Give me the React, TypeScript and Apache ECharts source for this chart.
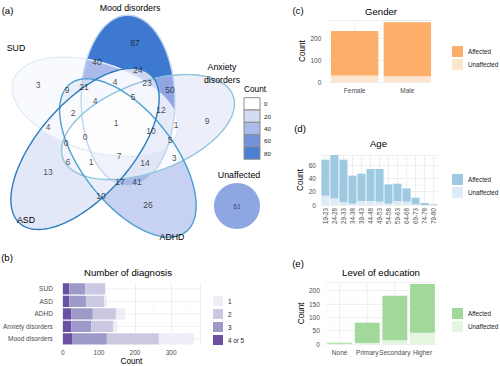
import React, { useEffect, useRef } from 'react';
import * as echarts from 'echarts';

const FONT = 'Liberation Sans, Arial, Helvetica, sans-serif';

// ---------- (a) Venn diagram data ----------
// set keys: M = Mood disorders, X = Anxiety disorders, H = ADHD, A = ASD, S = SUD
const vennSetKeys = ['M', 'X', 'H', 'A', 'S'];
const vennSetNames = ['Mood disorders', 'Anxiety disorders', 'ADHD', 'ASD', 'SUD'];
const vennRegionSets = [
  'S', 'M', 'X', 'A', 'H', 'MS', 'MX', 'MA', 'MXA', 'SH',
  'SMH', 'MSA', 'SMHA', 'MXAS', 'XMS', 'SAH', 'MXHAS', 'AS', 'ASX', 'SXHA',
  'SMXH', 'XS', 'XHS', 'AX', 'AHX', 'MXHA', 'HXM', 'XH', 'HAM', 'HM', 'HA',
];
const vennCounts = [3, 87, 9, 13, 26, 40, 50, 24, 23, 9, 21, 4, 4, 5, 12, 2, 1, 4, 0, 0, 10, 1, 5, 6, 1, 7, 14, 3, 17, 41, 10];
// label anchor of each region (layout only)
const vennLabelXY = [
  [38, 85], [135, 43], [207, 121], [48, 172], [148, 205], [97, 62], [170, 90], [138, 70], [147, 83], [67, 90],
  [84, 87], [115, 82], [95, 101], [133, 97], [161, 110], [73, 113], [116, 123], [48, 127], [66, 143], [85, 137],
  [151, 131], [176, 125], [170, 140], [68, 162], [91, 162], [119, 156], [145, 163], [174, 158], [120, 182], [137, 182], [101, 196],
];
const unaffectedCount = 61;
const countBreaks = [0, 20, 40, 60, 80];

// ---------- (b) Number of diagnosis ----------
const diagCats = ['SUD', 'ASD', 'ADHD', 'Anxiety disorders', 'Mood disorders'];
const diag45 = [18, 18, 23, 23, 27];
const diag3 = [44, 46, 60, 56, 95];
const diag2 = [55, 50, 64, 60, 144];
const diag1 = [2, 8, 25, 12, 98];

// ---------- (c) Gender ----------
const genderCats = ['Female', 'Male'];
const genderUnaffected = [30, 27];
const genderAffected = [205, 248];

// ---------- (d) Age ----------
const ageCats = ['19-23', '24-28', '29-33', '34-38', '39-43', '44-48', '49-53', '54-58', '59-63', '64-68', '69-73', '74-78', '79-80'];
const ageUnaffected = [14, 10, 4, 2, 6, 6, 5, 2, 6, 5, 1, 0, 0];
const ageAffected = [54, 66, 64, 42, 41, 48, 49, 29, 26, 20, 10, 3, 1];

// ---------- (e) Level of education ----------
const eduCats = ['None', 'Primary', 'Secondary', 'Higher'];
const eduUnaffected = [1, 4, 14, 42];
const eduAffected = [4, 76, 167, 183];

// ---------- styles / layout ----------
const vennStops: [number, string][] = [[0, '#ffffff'], [20, '#d4dbf4'], [40, '#aabaea'], [60, '#7492dc'], [80, '#4d80d5'], [90, '#3776cf']];
const vennEdge = ['#bfd6ee', '#8fc3df', '#4a9fd2', '#2c7cbc', '#e2ecf8'];
// symmetric start: centre x, centre y, offset radius, offset angle, semi-axes a/b, axis angle (deg)
const vennSymStart = [116, 124, 27, -63, 88, 50, 90];
// outline points seen in the reference (x, y, weight), per set
const vennEdgeHints = [
  [[130, 17, 1], [86, 40, 0.3], [184, 62, 0.3]],
  [[230, 120, 1]],
  [[148, 232, 1]],
  [[17, 165, 1], [73, 217, 1]],
  [[13, 88, 1]],
];

function hex(h: string) {
  const n = parseInt(h.slice(1), 16);
  return [(n >> 16) & 255, (n >> 8) & 255, n & 255];
}
function vennColor(v: number) {
  for (let i = 1; i < vennStops.length; i++) {
    if (v <= vennStops[i][0] || i === vennStops.length - 1) {
      const [v0, c0] = vennStops[i - 1];
      const [v1, c1] = vennStops[i];
      const t = Math.max(0, Math.min(1, (v - v0) / (v1 - v0)));
      const a = hex(c0), b = hex(c1);
      return `rgb(${a.map((x, j) => Math.round(x + (b[j] - x) * t)).join(',')})`;
    }
  }
  return vennStops[0][1];
}

function signedDist(p: number[], x: number, y: number) {
  const [cx, cy, a, b, ang] = p;
  const r = (ang * Math.PI) / 180;
  const dx = x - cx, dy = y - cy;
  const ca = Math.cos(r), sa = Math.sin(r);
  const u = dx * ca + dy * sa, w = -dx * sa + dy * ca;
  const q = (u / a) ** 2 + (w / b) ** 2;
  const g = 2 * Math.sqrt((u * u) / a ** 4 + (w * w) / b ** 4) + 1e-9;
  return (q - 1) / g;
}

function ellipseCost(p: number[], k: number, margin: number, hintW: number) {
  const key = vennSetKeys[k];
  let c = 0;
  vennLabelXY.forEach((pt, i) => {
    const d = signedDist(p, pt[0], pt[1]);
    if (vennRegionSets[i].includes(key)) c += Math.max(0, d + margin) ** 2;
    else c += Math.max(0, margin - d) ** 2;
  });
  vennEdgeHints[k].forEach(([x, y, wt]) => {
    const d = signedDist(p, x, y);
    c += hintW * wt * d * d;
  });
  return c;
}

function descend(p0: number[], steps0: number[], cost: (p: number[]) => number) {
  let p = p0.slice();
  const steps = steps0.slice();
  let best = cost(p);
  for (let iter = 0; iter < 800; iter++) {
    let improved = false;
    for (let j = 0; j < p.length; j++) {
      for (const s of [1, -1]) {
        const q = p.slice();
        q[j] += s * steps[j];
        const cq = cost(q);
        if (cq < best) { best = cq; p = q; improved = true; }
      }
    }
    if (!improved) {
      for (let j = 0; j < steps.length; j++) steps[j] *= 0.5;
      if (steps[0] < 0.02) break;
    }
  }
  return p;
}

function symEllipse(P: number[], k: number) {
  const [cx, cy, rho, beta, a, b, psi] = P;
  const t = ((beta + 72 * k) * Math.PI) / 180;
  return [cx + rho * Math.cos(t), cy + rho * Math.sin(t), a, b, psi + 72 * k];
}

// stage 1: five congruent ellipses in rotational symmetry
const symP = descend(vennSymStart, [2, 2, 2, 4, 2, 2, 4], (P) => {
  if (P[4] < 30 || P[5] < 25) return 1e12;
  let c = 0;
  for (let k = 0; k < 5; k++) c += ellipseCost(symEllipse(P, k), k, 3, 0.5);
  return c;
});
// stage 2: small individual adjustments
const vennShapes = [0, 1, 2, 3, 4].map((k) => {
  const s = symEllipse(symP, k);
  return descend(s, [1.5, 1.5, 1.5, 1.5, 2], (p) => {
    if (p[2] < 25 || p[3] < 25) return 1e12;
    let c = ellipseCost(p, k, 3, 1);
    for (let j = 0; j < 5; j++) c += 0.05 * (p[j] - s[j]) ** 2;
    return c;
  });
});

function ellipsePts(p: number[], n = 180) {
  const [cx, cy, a, b, ang] = p;
  const pts: number[][] = [];
  const r = (ang * Math.PI) / 180;
  const ca = Math.cos(r), sa = Math.sin(r);
  for (let i = 0; i < n; i++) {
    const t = (2 * Math.PI * i) / n;
    const u = a * Math.cos(t), w = b * Math.sin(t);
    pts.push([cx + u * ca - w * sa, cy + u * sa + w * ca]);
  }
  return pts;
}
function clip(subject: number[][], cp: number[][]) {
  let area = 0;
  for (let i = 0; i < cp.length; i++) {
    const p = cp[i], q = cp[(i + 1) % cp.length];
    area += p[0] * q[1] - q[0] * p[1];
  }
  const o = Math.sign(area);
  let out = subject;
  for (let i = 0; i < cp.length; i++) {
    const A = cp[i], B = cp[(i + 1) % cp.length];
    const inp = out;
    out = [];
    if (!inp.length) break;
    const side = (P: number[]) => ((B[0] - A[0]) * (P[1] - A[1]) - (B[1] - A[1]) * (P[0] - A[0])) * o;
    for (let j = 0; j < inp.length; j++) {
      const P = inp[j], Q = inp[(j + 1) % inp.length];
      const sp = side(P), sq = side(Q);
      if (sp >= 0) out.push(P);
      if ((sp >= 0) !== (sq >= 0)) {
        const t = sp / (sp - sq);
        out.push([P[0] + (Q[0] - P[0]) * t, P[1] + (Q[1] - P[1]) * t]);
      }
    }
  }
  return out;
}

const ellPolys = vennShapes.map((e) => ellipsePts(e));
const regionCount = new Map<number, number>();
vennRegionSets.forEach((s, i) => {
  let m = 0;
  vennSetKeys.forEach((k, j) => { if (s.includes(k)) m |= 1 << j; });
  regionCount.set(m, vennCounts[i]);
});
const regions: { mask: number; bits: number; poly: number[][]; color: string }[] = [];
for (let m = 1; m < 32; m++) {
  const ks = [0, 1, 2, 3, 4].filter((k) => m & (1 << k));
  let poly = ellPolys[ks[0]];
  for (let i = 1; i < ks.length; i++) poly = clip(poly, ellPolys[ks[i]]);
  regions.push({ mask: m, bits: ks.length, poly, color: vennColor(regionCount.get(m) ?? 0) });
}
regions.sort((a, b) => a.bits - b.bits);

function txt(x: number, y: number, text: string, size: number, o: any = {}) {
  return {
    type: 'text', x, y, silent: true, rotation: o.rotation ?? 0, z: 100,
    style: {
      text, fontSize: size, fontFamily: FONT, fill: o.fill ?? '#000',
      align: o.align ?? 'center', verticalAlign: 'middle',
      textAlign: o.align ?? 'center', textVerticalAlign: 'middle', lineHeight: o.lineHeight,
    },
  };
}

const valAxis = (extra: any) => ({
  type: 'value',
  axisLine: { show: false },
  axisTick: { show: false },
  splitLine: { show: true, lineStyle: { color: '#ebebeb', width: 0.8 } },
  minorTick: { show: false, splitNumber: 2 },
  minorSplitLine: { show: true, lineStyle: { color: '#f5f5f5', width: 0.5 } },
  nameTextStyle: { fontSize: 8.2, color: '#000', fontFamily: FONT },
  ...extra,
  axisLabel: { fontSize: 6.5, color: '#4d4d4d', fontFamily: FONT, showMaxLabel: false, ...(extra.axisLabel || {}) },
});
const catAxis = (extra: any) => ({
  type: 'category',
  axisLine: { show: false },
  axisTick: { show: false },
  splitLine: { show: false },
  ...extra,
  axisLabel: { fontSize: 6.5, color: '#4d4d4d', fontFamily: FONT, interval: 0, ...(extra.axisLabel || {}) },
});

function catGridLines(xi: number, n: number, horizontal: boolean) {
  return {
    type: 'custom', xAxisIndex: xi, yAxisIndex: xi, z: 1, silent: true,
    data: Array.from({ length: n }, (_, i) => (horizontal ? [0, i] : [i, 0])),
    renderItem: (params: any, api: any) => {
      const cs = params.coordSys;
      if (horizontal) {
        const p = api.coord([0, api.value(1)]);
        return { type: 'line', shape: { x1: cs.x, y1: p[1], x2: cs.x + cs.width, y2: p[1] }, style: { stroke: '#ebebeb', lineWidth: 0.8 } };
      }
      const p = api.coord([api.value(0), 0]);
      return { type: 'line', shape: { x1: p[0], y1: cs.y, x2: p[0], y2: cs.y + cs.height }, style: { stroke: '#ebebeb', lineWidth: 0.8 } };
    },
  };
}

function barSeries(name: string, idx: number, data: number[], color: string, stack: string) {
  return {
    type: 'bar', name, xAxisIndex: idx, yAxisIndex: idx, stack, data, z: 2,
    barCategoryGap: '10%', itemStyle: { color }, emphasis: { disabled: true },
  };
}

const legendBase = (extra: any) => ({
  orient: 'vertical', icon: 'rect', itemWidth: 11, itemHeight: 11, itemGap: 2, selectedMode: false, padding: 0,
  textStyle: { fontSize: 6.3, color: '#1a1a1a', fontFamily: FONT },
  formatter: (n: string) => n.split('_')[0],
  ...extra,
});

function buildOption() {
  const graphics: any[] = [
    txt(7.5, 10, '(a)', 9.6),
    txt(7, 257, '(b)', 9.6),
    txt(298, 10, '(c)', 9.6),
    txt(300, 128, '(d)', 9.6),
    txt(298, 263, '(e)', 9.6),
    txt(381, 11, 'Gender', 9.6),
    txt(378.5, 143, 'Age', 9.6),
    txt(381, 272, 'Level of education', 9.6),
    txt(128, 272, 'Number of diagnosis', 9.6),
    txt(130, 8, vennSetNames[0], 8.8),
    txt(222, 73.5, 'Anxiety\ndisorders', 8.8, { lineHeight: 13 }),
    txt(172, 237, vennSetNames[2], 8.8),
    txt(26, 220, vennSetNames[3], 8.8),
    txt(16, 48, vennSetNames[4], 8.8),
    txt(239, 175, 'Unaffected', 8.8),
    txt(244, 89, 'Count', 8.3, { align: 'left' }),
  ];
  countBreaks.forEach((b, i) => {
    graphics.push({
      type: 'rect', silent: true, z: 100,
      shape: { x: 244, y: 97.7 + i * 12.3, width: 16, height: 12.3 },
      style: { fill: vennColor(b), stroke: '#8c8c8c', lineWidth: 1 },
    });
    graphics.push(txt(264, 97.7 + i * 12.3 + 6.2, String(b), 6.2, { align: 'left', fill: '#1a1a1a' }));
  });

  const series: any[] = [
    {
      type: 'custom', xAxisIndex: 0, yAxisIndex: 0, z: 1, silent: true,
      data: regions.map((r) => [125, 135, r.mask]),
      renderItem: (params: any, api: any) => {
        const r = regions[params.dataIndex];
        if (!r.poly.length) return { type: 'group', children: [] };
        return {
          type: 'polygon', z2: r.bits,
          shape: { points: r.poly.map((p) => api.coord(p)) },
          style: { fill: r.color, stroke: r.color, lineWidth: 0.4 },
        };
      },
    },
    {
      type: 'custom', xAxisIndex: 0, yAxisIndex: 0, z: 2, silent: true,
      data: [4, 0, 1, 2, 3].map((k) => [125, 135, k]),
      renderItem: (params: any, api: any) => {
        const k = [4, 0, 1, 2, 3][params.dataIndex];
        return {
          type: 'polygon', z2: params.dataIndex,
          shape: { points: ellPolys[k].map((p) => api.coord(p)) },
          style: { fill: 'none', stroke: vennEdge[k], lineWidth: 1.4 },
        };
      },
    },
    {
      type: 'scatter', xAxisIndex: 0, yAxisIndex: 0, z: 3, silent: true, symbolSize: 0,
      data: vennLabelXY.map((p, i) => [p[0], p[1], vennCounts[i]]),
      label: { show: true, position: 'inside', formatter: (p: any) => String(p.value[2]), fontSize: 8.5, color: '#1a1a1a', fontFamily: FONT },
    },
    {
      type: 'scatter', xAxisIndex: 0, yAxisIndex: 0, z: 3, silent: true, symbolSize: 46,
      data: [[237, 206, unaffectedCount]],
      itemStyle: { color: vennColor(unaffectedCount) },
      label: { show: true, position: 'inside', formatter: (p: any) => String(p.value[2]), fontSize: 6.8, color: '#1c2b4f', fontFamily: FONT },
    },
    catGridLines(1, diagCats.length, true),
    barSeries('4 or 5', 1, diag45, '#6a51a3', 'd'),
    barSeries('3', 1, diag3, '#9e9ac8', 'd'),
    barSeries('2', 1, diag2, '#cbc9e2', 'd'),
    barSeries('1', 1, diag1, '#efedf5', 'd'),
    catGridLines(2, genderCats.length, false),
    barSeries('Unaffected_c', 2, genderUnaffected, '#fee6ce', 'g'),
    barSeries('Affected_c', 2, genderAffected, '#fdae6b', 'g'),
    catGridLines(3, ageCats.length, false),
    barSeries('Unaffected_d', 3, ageUnaffected, '#deebf7', 'a'),
    barSeries('Affected_d', 3, ageAffected, '#9ecae1', 'a'),
    catGridLines(4, eduCats.length, false),
    barSeries('Unaffected_e', 4, eduUnaffected, '#e5f5e0', 'e'),
    barSeries('Affected_e', 4, eduAffected, '#a1d99b', 'e'),
  ];

  return {
    animation: false,
    textStyle: { fontFamily: FONT },
    grid: [
      { left: 0, top: 0, width: 250, height: 270 },
      { left: 62, top: 282.6, width: 138, height: 63.75 },
      { left: 328.3, top: 20.2, width: 105.4, height: 61.8 },
      { left: 320.9, top: 155, width: 117.2, height: 50 },
      { left: 325.8, top: 282.7, width: 110.5, height: 61.3 },
    ],
    xAxis: [
      { gridIndex: 0, type: 'value', min: 0, max: 250, show: false },
      valAxis({ gridIndex: 1, min: 0, max: 380, interval: 100, name: 'Count', nameLocation: 'middle', nameGap: 11, axisLabel: { margin: 4 } }),
      catAxis({ gridIndex: 2, data: genderCats, axisLabel: { margin: 5 } }),
      catAxis({ gridIndex: 3, data: ageCats, axisLabel: { rotate: 90, margin: 3, fontSize: 6.3 } }),
      catAxis({ gridIndex: 4, data: eduCats, axisLabel: { margin: 5 } }),
    ],
    yAxis: [
      { gridIndex: 0, type: 'value', min: 0, max: 270, inverse: true, show: false },
      catAxis({ gridIndex: 1, data: diagCats, inverse: true, axisLabel: { margin: 10 } }),
      valAxis({ gridIndex: 2, min: 0, max: 285, interval: 100, name: 'Count', nameLocation: 'middle', nameGap: 22, axisLabel: { margin: 7 } }),
      valAxis({ gridIndex: 3, min: 0, max: 75, interval: 20, name: 'Count', nameLocation: 'middle', nameGap: 15, axisLabel: { margin: 5 } }),
      valAxis({ gridIndex: 4, min: 0, max: 230, interval: 50, name: 'Count', nameLocation: 'middle', nameGap: 20, axisLabel: { margin: 6 } }),
    ],
    legend: [
      legendBase({ data: ['1', '2', '3', '4 or 5'], left: 213, top: 296, itemWidth: 10, itemHeight: 10, itemGap: 3 }),
      legendBase({ data: ['Affected_c', 'Unaffected_c'], left: 452, top: 46 }),
      legendBase({ data: ['Affected_d', 'Unaffected_d'], left: 452, top: 174 }),
      legendBase({ data: ['Affected_e', 'Unaffected_e'], left: 452, top: 308 }),
    ],
    graphic: graphics,
    series,
  };
}

export default function App() {
  const ref = useRef<HTMLDivElement>(null);
  useEffect(() => {
    const chart = echarts.init(ref.current!, null, { renderer: 'svg' });
    chart.setOption(buildOption() as any);
    return () => chart.dispose();
  }, []);
  return <div ref={ref} style={{ position: 'fixed', left: 0, top: 0, width: 500, height: 366, background: '#fff' }} />;
}
